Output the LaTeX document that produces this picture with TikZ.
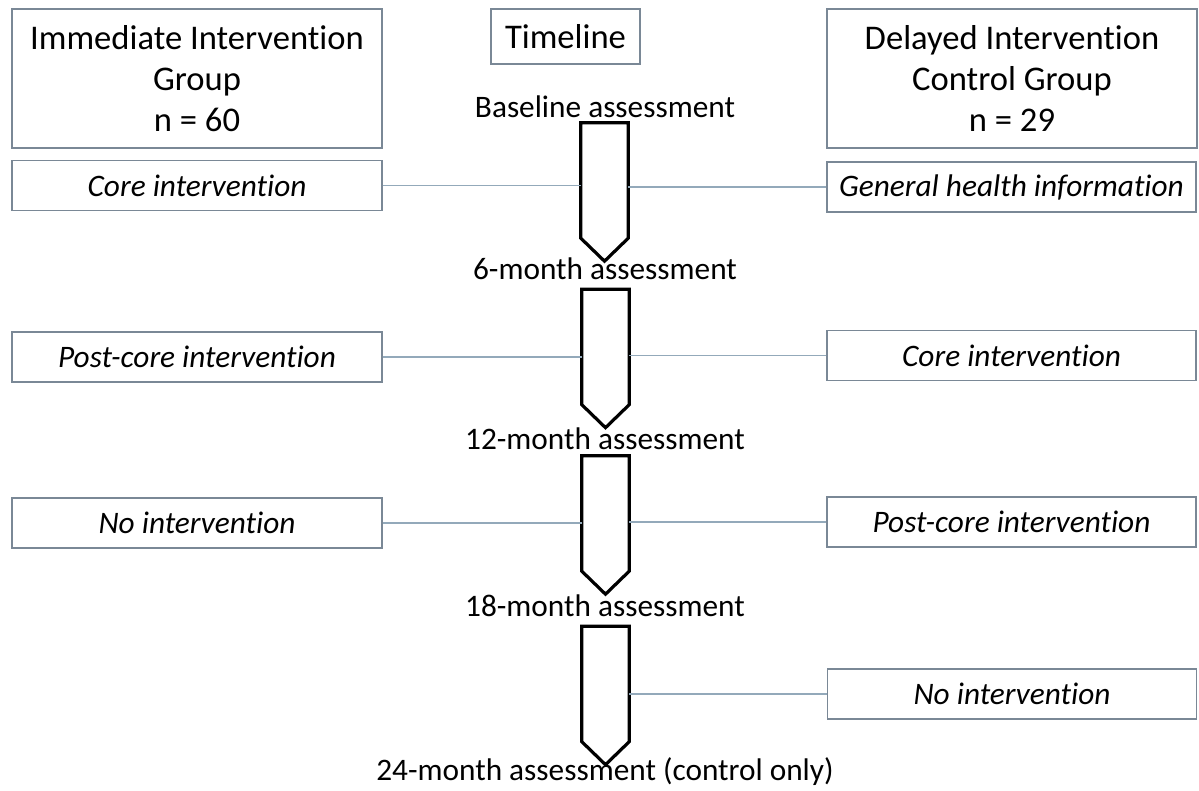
\documentclass[tikz,border=0pt]{standalone}
\usepackage{fontspec}
\setmainfont[Ligatures=NoCommon]{Carlito}
\definecolor{boxline}{HTML}{7A8896}
\definecolor{conn}{HTML}{93A9BA}
\tikzset{
  hdr/.style={draw=boxline, line width=1.3pt, align=center, inner sep=0pt,
    font=\fontsize{34.6}{41}\selectfont},
  grpbox/.style={draw=boxline, line width=1.3pt, inner sep=0pt,
    minimum height=50pt, font=\fontsize{31.3}{37}\selectfont\itshape},
  shaft/.style={inner sep=0pt, minimum width=47pt, minimum height=115pt},
  arrowline/.style={draw=black, line width=3.2pt, line join=miter, fill=white},
  asmt/.style={anchor=base, inner sep=0pt, font=\fontsize{31.3}{37}\selectfont},
  link/.style={draw=conn, line width=1.4pt}
}
\newcommand{\tlarrow}[1]{%
  \draw[arrowline] (#1.north west) -- (#1.north east) -- (#1.south east)
    -- ([yshift=-23pt]#1.south) -- (#1.south west) -- cycle;}
\begin{document}
\begin{tikzpicture}[x=1pt,y=-1pt]
\useasboundingbox (0,0) rectangle (1199,791);
% headers
\node[hdr, minimum width=370pt, minimum height=139pt] (hl) at (197,78.5) {Immediate Intervention\\Group\\n = 60};
\node[hdr, minimum width=149pt, minimum height=55pt] (ht) at (565.5,36.5) {Timeline};
\node[hdr, minimum width=370pt, minimum height=139pt] (hr) at (1012,78.5) {Delayed Intervention\\Control Group\\n = 29};
% timeline arrow shafts
\node[shaft] (a1) at (604.5,180.5) {};
\node[shaft] (a2) at (605.5,347) {};
\node[shaft] (a3) at (605.5,513.5) {};
\node[shaft] (a4) at (605.5,684) {};
\tlarrow{a1}
\tlarrow{a2}
\tlarrow{a3}
\tlarrow{a4}
% assessment labels
\node[asmt] (t0) at (605,118) {Baseline assessment};
\node[asmt] (t6) at (605,280) {6-month assessment};
\node[asmt] (t12) at (605,449) {12-month assessment};
\node[asmt] (t18) at (605,616) {18-month assessment};
\node[asmt] (t24) at (605,780) {24-month assessment (control only)};
% left column
\node[grpbox, minimum width=370pt] (l1) at (197,185.5) {Core intervention};
\node[grpbox, minimum width=370pt] (l2) at (197,357) {Post-core intervention};
\node[grpbox, minimum width=370pt] (l3) at (197,523) {No intervention};
% right column
\node[grpbox, minimum width=369pt] (r1) at (1011.5,187) {General health information};
\node[grpbox, minimum width=369pt] (r2) at (1011.5,355.5) {Core intervention};
\node[grpbox, minimum width=369pt] (r3) at (1011.5,522) {Post-core intervention};
\node[grpbox, minimum width=369pt] (r4) at (1012,694) {No intervention};
% connectors
\draw[link] (l1.east) -- (l1.east -| a1.west);
\draw[link] (r1.west) -- (r1.west -| a1.east);
\draw[link] (l2.east) -- (l2.east -| a2.west);
\draw[link] (r2.west) -- (r2.west -| a2.east);
\draw[link] (l3.east) -- (l3.east -| a3.west);
\draw[link] (r3.west) -- (r3.west -| a3.east);
\draw[link] (r4.west) -- (r4.west -| a4.east);
\end{tikzpicture}
\end{document}
